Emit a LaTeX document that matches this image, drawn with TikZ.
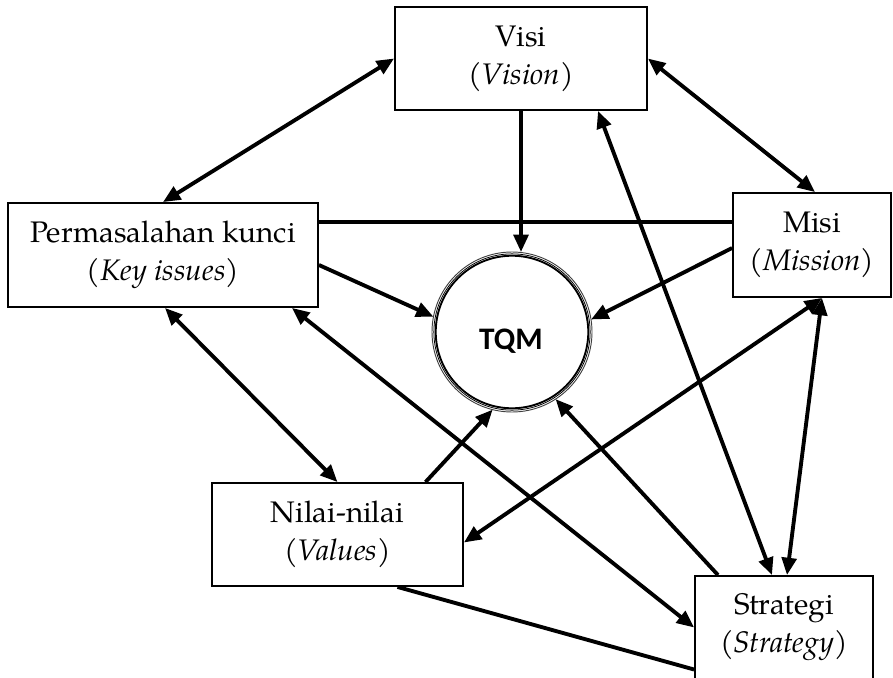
\documentclass[tikz,border=0pt]{standalone}
\usepackage{fontspec}
\usetikzlibrary{arrows.meta,calc}
% Palatino-style text for the boxes, Calibri-style bold for the hub
\newfontfamily\bookfont{texgyrepagella}[Extension=.otf, UprightFont=*-regular,
  ItalicFont=*-italic, BoldFont=*-bold, BoldItalicFont=*-bolditalic]
\newfontfamily\hubfont{Carlito}

\tikzset{
  box/.style={draw, line width=1.4pt, rectangle, align=center, inner sep=0pt,
              font=\bookfont\fontsize{22.3}{28.5}\selectfont},
  hub/.style={circle, draw=black!75, line width=0.7pt, inner sep=0pt, outer sep=0pt,
              minimum size=120pt},
  hublabel/.style={inner sep=0pt, font=\hubfont\bfseries\fontsize{23.5}{26}\selectfont},
  tip/.tip={Triangle[length=13pt,width=11pt]},
  link/.style={line width=2.9pt},
  both/.style={link, tip-tip},
  one/.style={link, -tip}
}

\begin{document}
\begin{tikzpicture}[x=0.75pt, y=-0.75pt]
\useasboundingbox (0,0) rectangle (893,678);
\clip (0,0) rectangle (893,678);

% the five elements
\node[box, minimum width=189pt,   minimum height=77.25pt] (visi)   at (521,58.5)  {Visi\\(\textit{Vision})};
\node[box, minimum width=232.5pt, minimum height=78pt]    (perm)   at (163,255)   {Permasalahan kunci\\(\textit{Key issues})};
\node[box, minimum width=118.5pt, minimum height=78pt]    (misi)   at (812,245)   {Misi\\(\textit{Mission})};
\node[box, minimum width=188.25pt,minimum height=77.25pt] (nilai)  at (337.5,534.5) {Nilai-nilai\\(\textit{Values})};
\node[box, minimum width=133.5pt, minimum height=77.25pt] (strat)  at (784,627.5) {Strategi\\(\textit{Strategy})};

% TQM hub: outer ring is the node border, two inner rings drawn around it
\node[hub] (tqm) at (512,332) {};
\draw[line width=0.6pt] (tqm.center) circle[radius=58.6pt];
\draw[line width=1.4pt] (tqm.center) circle[radius=57.2pt];
\node[hublabel] (tqmtext) at (511,341) {TQM};

% two-way links
\draw[both] (perm.north) -- (visi.west);
\draw[both] (visi.east) -- ($(misi.north)+(3,0)$);
\draw[both] ($(visi.south)+(77,0)$) -- ($(strat.north)+(-12,0)$);
\draw[both] ($(perm.south)+(2,0)$) -- (nilai.north);
\draw[both] ($(perm.south)+(129,0)$) -- (strat.west);
\draw[both] ($(misi.south)+(10,0)$) -- ($(nilai.east)+(0,8)$);
\draw[both] ($(misi.south)+(10,0)$) -- ($(strat.north)+(3,0)$);

% links into the hub
\draw[one] (visi.south) -- (visi.south |- tqm.north);
\draw[one] ($(perm.east)+(0,10)$) -- (tqm.169);
\draw[one] ($(misi.west)+(0,3)$) -- (tqm.9);
\draw[one] ($(nilai.north)+(88,0)$) -- (tqm.256);
\draw[one] ($(strat.north)+(-66,0)$) -- (tqm.303);

% plain links
\draw[link] ($(perm.north east)+(0,20)$) -- ($(misi.north west)+(0,30)$);
\draw[link] ($(nilai.south)+(60,0)$) -- ($(strat.west)+(0,42)$);
\end{tikzpicture}
\end{document}
